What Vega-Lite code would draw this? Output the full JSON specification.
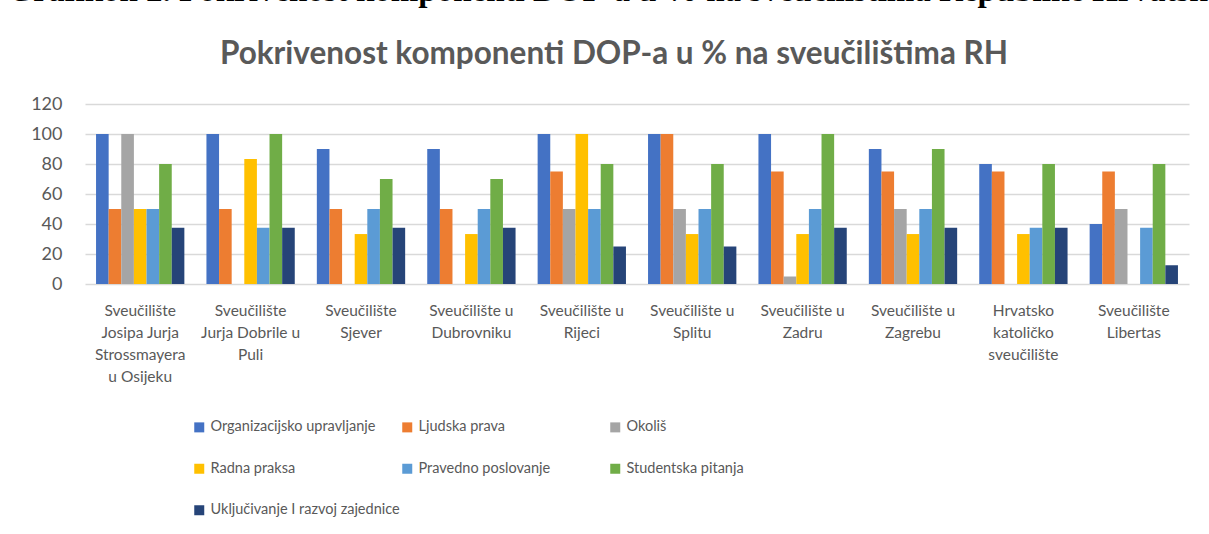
{
  "$schema": "https://vega.github.io/schema/vega-lite/v6.json",
  "padding": {"left": 7, "top": -26, "right": 0, "bottom": 0},
  "background": "white",
  "title": {"text": "Grafikon 2. Pokrivenost komponenti DOP-a u % na sveučilištima Republike Hrvatske", "anchor": "start", "font": "Liberation Serif", "fontSize": 33, "fontWeight": "bold", "color": "#000000", "offset": 31, "dx": -23},
  "config": {"view": {"stroke": null}},
  "vconcat": [
    {
      "width": 1104,
      "height": 180,
      "title": {"text": "Pokrivenost komponenti DOP-a u % na sveučilištima RH", "anchor": "middle", "font": "Lato", "fontSize": 31.5, "fontWeight": "bold", "color": "#595959", "offset": 25, "dx": -23},
      "data": {"values": [
        {"uni": "Sveučilište|Josipa Jurja|Strossmayera|u Osijeku", "comp": "Organizacijsko upravljanje", "v": 100},
        {"uni": "Sveučilište|Josipa Jurja|Strossmayera|u Osijeku", "comp": "Ljudska prava", "v": 50},
        {"uni": "Sveučilište|Josipa Jurja|Strossmayera|u Osijeku", "comp": "Okoliš", "v": 100},
        {"uni": "Sveučilište|Josipa Jurja|Strossmayera|u Osijeku", "comp": "Radna praksa", "v": 50},
        {"uni": "Sveučilište|Josipa Jurja|Strossmayera|u Osijeku", "comp": "Pravedno poslovanje", "v": 50},
        {"uni": "Sveučilište|Josipa Jurja|Strossmayera|u Osijeku", "comp": "Studentska pitanja", "v": 80},
        {"uni": "Sveučilište|Josipa Jurja|Strossmayera|u Osijeku", "comp": "Uključivanje I razvoj zajednice", "v": 37.5},
        {"uni": "Sveučilište|Jurja Dobrile u|Puli", "comp": "Organizacijsko upravljanje", "v": 100},
        {"uni": "Sveučilište|Jurja Dobrile u|Puli", "comp": "Ljudska prava", "v": 50},
        {"uni": "Sveučilište|Jurja Dobrile u|Puli", "comp": "Okoliš", "v": 0},
        {"uni": "Sveučilište|Jurja Dobrile u|Puli", "comp": "Radna praksa", "v": 83.3},
        {"uni": "Sveučilište|Jurja Dobrile u|Puli", "comp": "Pravedno poslovanje", "v": 37.5},
        {"uni": "Sveučilište|Jurja Dobrile u|Puli", "comp": "Studentska pitanja", "v": 100},
        {"uni": "Sveučilište|Jurja Dobrile u|Puli", "comp": "Uključivanje I razvoj zajednice", "v": 37.5},
        {"uni": "Sveučilište|Sjever", "comp": "Organizacijsko upravljanje", "v": 90},
        {"uni": "Sveučilište|Sjever", "comp": "Ljudska prava", "v": 50},
        {"uni": "Sveučilište|Sjever", "comp": "Okoliš", "v": 0},
        {"uni": "Sveučilište|Sjever", "comp": "Radna praksa", "v": 33.3},
        {"uni": "Sveučilište|Sjever", "comp": "Pravedno poslovanje", "v": 50},
        {"uni": "Sveučilište|Sjever", "comp": "Studentska pitanja", "v": 70},
        {"uni": "Sveučilište|Sjever", "comp": "Uključivanje I razvoj zajednice", "v": 37.5},
        {"uni": "Sveučilište u|Dubrovniku", "comp": "Organizacijsko upravljanje", "v": 90},
        {"uni": "Sveučilište u|Dubrovniku", "comp": "Ljudska prava", "v": 50},
        {"uni": "Sveučilište u|Dubrovniku", "comp": "Okoliš", "v": 0},
        {"uni": "Sveučilište u|Dubrovniku", "comp": "Radna praksa", "v": 33.3},
        {"uni": "Sveučilište u|Dubrovniku", "comp": "Pravedno poslovanje", "v": 50},
        {"uni": "Sveučilište u|Dubrovniku", "comp": "Studentska pitanja", "v": 70},
        {"uni": "Sveučilište u|Dubrovniku", "comp": "Uključivanje I razvoj zajednice", "v": 37.5},
        {"uni": "Sveučilište u|Rijeci", "comp": "Organizacijsko upravljanje", "v": 100},
        {"uni": "Sveučilište u|Rijeci", "comp": "Ljudska prava", "v": 75},
        {"uni": "Sveučilište u|Rijeci", "comp": "Okoliš", "v": 50},
        {"uni": "Sveučilište u|Rijeci", "comp": "Radna praksa", "v": 100},
        {"uni": "Sveučilište u|Rijeci", "comp": "Pravedno poslovanje", "v": 50},
        {"uni": "Sveučilište u|Rijeci", "comp": "Studentska pitanja", "v": 80},
        {"uni": "Sveučilište u|Rijeci", "comp": "Uključivanje I razvoj zajednice", "v": 25},
        {"uni": "Sveučilište u|Splitu", "comp": "Organizacijsko upravljanje", "v": 100},
        {"uni": "Sveučilište u|Splitu", "comp": "Ljudska prava", "v": 100},
        {"uni": "Sveučilište u|Splitu", "comp": "Okoliš", "v": 50},
        {"uni": "Sveučilište u|Splitu", "comp": "Radna praksa", "v": 33.3},
        {"uni": "Sveučilište u|Splitu", "comp": "Pravedno poslovanje", "v": 50},
        {"uni": "Sveučilište u|Splitu", "comp": "Studentska pitanja", "v": 80},
        {"uni": "Sveučilište u|Splitu", "comp": "Uključivanje I razvoj zajednice", "v": 25},
        {"uni": "Sveučilište u|Zadru", "comp": "Organizacijsko upravljanje", "v": 100},
        {"uni": "Sveučilište u|Zadru", "comp": "Ljudska prava", "v": 75},
        {"uni": "Sveučilište u|Zadru", "comp": "Okoliš", "v": 5},
        {"uni": "Sveučilište u|Zadru", "comp": "Radna praksa", "v": 33.3},
        {"uni": "Sveučilište u|Zadru", "comp": "Pravedno poslovanje", "v": 50},
        {"uni": "Sveučilište u|Zadru", "comp": "Studentska pitanja", "v": 100},
        {"uni": "Sveučilište u|Zadru", "comp": "Uključivanje I razvoj zajednice", "v": 37.5},
        {"uni": "Sveučilište u|Zagrebu", "comp": "Organizacijsko upravljanje", "v": 90},
        {"uni": "Sveučilište u|Zagrebu", "comp": "Ljudska prava", "v": 75},
        {"uni": "Sveučilište u|Zagrebu", "comp": "Okoliš", "v": 50},
        {"uni": "Sveučilište u|Zagrebu", "comp": "Radna praksa", "v": 33.3},
        {"uni": "Sveučilište u|Zagrebu", "comp": "Pravedno poslovanje", "v": 50},
        {"uni": "Sveučilište u|Zagrebu", "comp": "Studentska pitanja", "v": 90},
        {"uni": "Sveučilište u|Zagrebu", "comp": "Uključivanje I razvoj zajednice", "v": 37.5},
        {"uni": "Hrvatsko|katoličko|sveučilište", "comp": "Organizacijsko upravljanje", "v": 80},
        {"uni": "Hrvatsko|katoličko|sveučilište", "comp": "Ljudska prava", "v": 75},
        {"uni": "Hrvatsko|katoličko|sveučilište", "comp": "Okoliš", "v": 0},
        {"uni": "Hrvatsko|katoličko|sveučilište", "comp": "Radna praksa", "v": 33.3},
        {"uni": "Hrvatsko|katoličko|sveučilište", "comp": "Pravedno poslovanje", "v": 37.5},
        {"uni": "Hrvatsko|katoličko|sveučilište", "comp": "Studentska pitanja", "v": 80},
        {"uni": "Hrvatsko|katoličko|sveučilište", "comp": "Uključivanje I razvoj zajednice", "v": 37.5},
        {"uni": "Sveučilište|Libertas", "comp": "Organizacijsko upravljanje", "v": 40},
        {"uni": "Sveučilište|Libertas", "comp": "Ljudska prava", "v": 75},
        {"uni": "Sveučilište|Libertas", "comp": "Okoliš", "v": 50},
        {"uni": "Sveučilište|Libertas", "comp": "Radna praksa", "v": 0},
        {"uni": "Sveučilište|Libertas", "comp": "Pravedno poslovanje", "v": 37.5},
        {"uni": "Sveučilište|Libertas", "comp": "Studentska pitanja", "v": 80},
        {"uni": "Sveučilište|Libertas", "comp": "Uključivanje I razvoj zajednice", "v": 12.5}
      ]},
      "mark": {"type": "bar"},
      "encoding": {
        "x": {"field": "uni", "type": "nominal", "sort": null,
          "scale": {"paddingInner": 0.2, "paddingOuter": 0.1},
          "axis": {"title": null, "labelAngle": 0, "labelExpr": "split(datum.label, '|')", "labelFont": "Lato", "labelFontSize": 15.5, "labelColor": "#595959", "labelLineHeight": 22, "labelBaseline": "top", "labelPadding": 19, "ticks": false, "domain": false, "labelLimit": 0}},
        "xOffset": {"field": "comp", "type": "nominal", "sort": null, "scale": {"paddingInner": 0, "paddingOuter": 0}},
        "y": {"field": "v", "type": "quantitative",
          "scale": {"domain": [0, 120], "nice": false},
          "axis": {"title": null, "values": [0, 20, 40, 60, 80, 100, 120], "grid": true, "gridColor": "#d9d9d9", "gridWidth": 1.5, "domain": false, "ticks": false, "labelFont": "Lato", "labelFontSize": 18, "labelColor": "#595959", "labelPadding": 23}},
        "color": {"field": "comp", "type": "nominal", "sort": null,
          "scale": {"domain": ["Organizacijsko upravljanje", "Ljudska prava", "Okoliš", "Radna praksa", "Pravedno poslovanje", "Studentska pitanja", "Uključivanje I razvoj zajednice"],
                    "range": ["#4472C4", "#ED7D31", "#A5A5A5", "#FFC000", "#5B9BD5", "#70AD47", "#264478"]},
          "legend": {"title": null, "orient": "none", "legendX": 107, "legendY": 316, "direction": "horizontal", "columns": 3, "gridAlign": "all", "symbolType": "square", "symbolSize": 100, "symbolStrokeWidth": 0, "labelFont": "Lato", "labelFontSize": 14.5, "labelColor": "#595959", "labelOffset": 4, "rowPadding": 26.5, "columnPadding": 0, "labelLimit": 0}}
      }
    }
  ]
}
